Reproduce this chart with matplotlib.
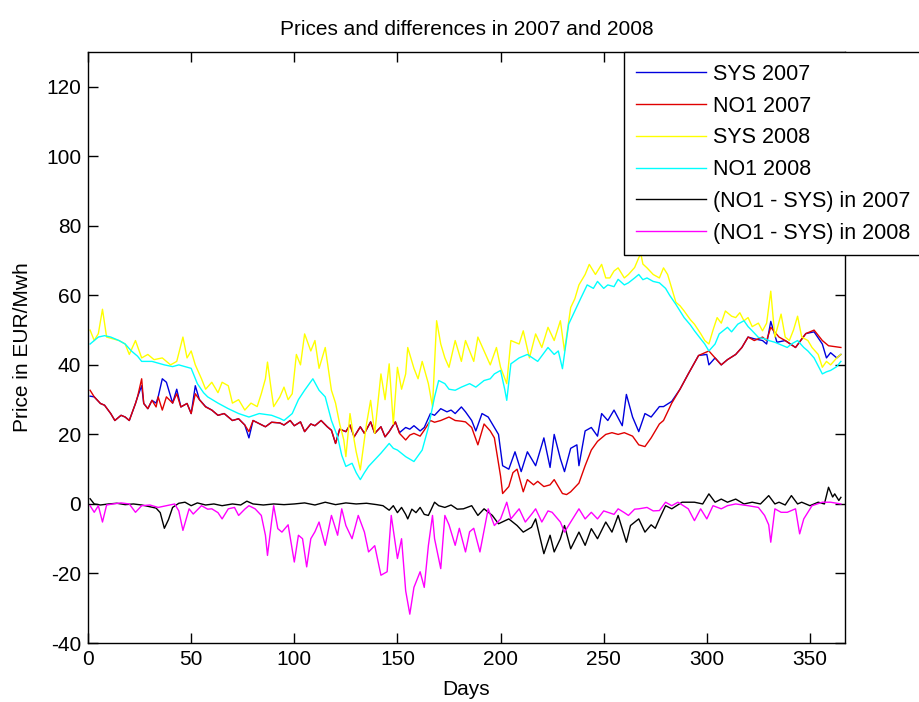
import numpy as np
import matplotlib
matplotlib.use("Agg")
import matplotlib.pyplot as plt

plt.rcParams['font.family'] = ['Liberation Sans', 'DejaVu Sans']
plt.rcParams['axes.unicode_minus'] = False

# (day, price) pairs
sys_2007 = [(1,31),(3,30.8),(6,28.9),(8,28.4),(11,26),(13,24),(16,25.5),(18,25),(20,24),(23,28.9),(24,30.8),(26,34),(27,28.9),(29,27.4),(31,29.8),(33,29),(34,30.8),(36,36),(38,35),(41,29),(43,33),(45,27.9),(48,28.9),(50,26),(52,34),(54,30),(57,28),(60,27),(63,25.5),(66,26),(70,24),(73,24.5),(76,22.7),(78,19),(80,24),(83,23.1),(86,22.2),(89,23.5),
            (93,23.3),(95,22.7),(98,24),(100,22.5),(103,23.6),(105,20.8),(108,23),(110,22.5),(113,24),(116,22.2),(118,21.2),(120,17.4),(122,21.5),(125,20.8),(127,22.7),(129,19.3),(132,22.2),(134,20.3),(137,23.6),(139,20.3),(142,22.2),(144,19.3),(146,20.8),(149,23.6),(151,20.5),(154,22),(156,21.5),(158,22.5),(161,21),(163,22),(166,26),(168,25.5),(171,27.4),(174,26.5),(176,27),(178,26),(181,27.9),(183,26.5),
            (186,24),(188,21),(191,26),(194,25),(196,23),(199,20),(201,11),(204,10),(207,15),(210,9.3),(213,15),(217,11),(221,19),(224,10.5),(226,20),(229,13),(231,9.3),(234,16),(237,17),(238,11),(241,21),(244,22),(247,19.5),(249,26),(252,24),(255,27),(259,22.5),(261,31.5),(264,25),(267,20.8),(270,26),(273,25),(277,28),
            (279,28),(283,29.5),(287,33),(291,37.4),(296,42.7),(300,43),(301,40),(304,42),(307,40),(310,41.5),(314,43),(317,45),(320,48),(323,47.5),(327,47),(329,46),(331,52.5),(334,46.5),(338,47),(343,45),(348,49),(352,49.5),(356,46),(358,42),(360,43.5),(363,42),(365,43)]

no1_2007 = [(1,32.7),(3,30.8),(6,28.9),(8,28.4),(11,26),(13,24),(16,25.5),(18,25),(20,24),(23,28.9),(24,30.8),(26,36),(27,28.9),(29,27.4),(31,29.8),(33,27.9),(34,30.8),(36,27),(38,30.8),(41,29),(43,31.7),(45,27.9),(48,28.9),(50,26),(52,31.7),(54,30),(57,27.9),(60,27),(63,25.5),(66,26),(70,24),(73,24.5),(76,22.7),(78,20.8),(80,24),(83,23.1),(86,22.2),(89,23.5),
            (93,23.3),(95,22.7),(98,24),(100,22.5),(103,23.6),(105,20.8),(108,23),(110,22.5),(113,24),(116,22.2),(118,21.2),(120,17.4),(122,21.5),(125,20.8),(127,22.7),(129,19.3),(132,22.2),(134,20.3),(137,23.6),(139,20.3),(142,22.2),(144,19.3),(146,20.8),(149,23.6),(151,20.3),(154,18.4),(156,19.8),(158,20.3),(161,19.5),(163,21.2),(166,24),(168,23.5),(171,24),(175,25),(178,24),(181,23.8),(183,23.6),
            (186,22),(189,17),(192,23),(195,21),(197,19),(200,8),(201,3),(204,5),(206,9),(208,10),(211,3.5),(213,7),(216,5.5),(218,6.5),(221,5),(224,5.5),(226,7),(230,3),(232,2.7),(234,3.5),(238,6),(241,11),(244,15.5),(247,18),(251,20),(254,20.5),(257,20),(260,20.5),(264,19.5),(267,17),(270,16.5),(273,19),(277,23),
            (279,24),(283,29),(287,33),(291,37.4),(296,42.7),(301,44),(304,42),(307,40),(310,41.5),(314,43),(317,45),(320,48),(323,47),(327,48),(329,47),(331,50.8),(335,48),(338,47),(343,45),(348,49),(352,50),(356,47),(359,45.5),(365,45)]

sys_2008 = [(1,50),(3,47),(5,49),(7,56),(9,48),(12,47.5),(15,47),(18,46),(20,43),(23,47),(26,42),(29,43),(32,41.5),(36,42),(40,40),(43,41),(46,48),(48,42),(50,44),(52,40),(55,36),(57,33),(60,35),(63,32),(65,35),(68,34),(70,29),(73,30),(76,27),(79,29),(82,28),(84,31.7),(86,36),(87,40.8),(89,32),(90,28),(93,30.8),(95,33.6),(97,30),(99,31.7),
            (101,43),(103,40),(105,48.9),(108,44),(110,47),(112,39),(115,45),(118,32.7),(120,29),(122,23),(124,18.4),(125,13.6),(127,26),(129,18.4),(130,15),(132,9.8),(135,23),(137,29.8),(139,20.3),(142,37.4),(144,30),(146,40.3),(148,23),(150,39.3),(152,33),(154,37.4),(155,45),(158,39),(160,36),(162,41),(165,34.6),(167,28),(169,52.7),(171,46),(173,42),(175,39.3),(178,47),(181,41),(183,47),(185,44),
            (187,41),(189,48),(192,44),(195,40),(198,45),(200,39.3),(203,34.6),(205,47),(209,46),(211,49.8),(214,42),(217,48.9),(220,45),(223,50.8),(226,47),(229,52.7),(231,44),(234,56.5),(236,59),(238,63),(241,66),(243,68.9),(246,66),(249,68.9),(251,65),(253,65),(255,67),(257,67.9),(260,65),(262,66),(265,68),(267,70.8),(268,72),(269,69),(271,67.9),(274,66),(277,65),
            (279,67.9),(281,66),(283,62),(285,58),(287,57),(289,55.5),(292,53),(294,51.7),(297,49),(299,47),(301,46),(303,50),(305,53.6),(307,52),(309,55.5),(312,54),(314,53.6),(316,55),(318,52.7),(320,53.6),(322,51),(325,52),(327,49.8),(329,52),(331,61.2),(333,48),(336,54.6),(338,48),(340,47),(342,50),(344,54),(346,48),(349,47),(351,45),(354,43),(356,39.3),(358,41),(360,40),(363,42),(365,43)]

no1_2008 = [(1,46),(3,47),(5,48),(8,48.4),(11,48),(15,47),(18,46),(21,44),(24,42.5),(26,41),(31,41),(34,40.5),(37,40),(41,39.5),(44,40),(47,39.5),(50,39),(53,34.6),(56,32),(58,30.8),(63,29),(68,27.4),(73,26),(78,25),(83,26),(89,25.5),(93,24.6),
            (95,24),(99,26),(102,30),(105,32.7),(109,36),(112,32.7),(115,30.8),(118,24),(121,19.3),(123,14),(125,10.8),(128,11.7),(130,9),(132,7),(134,9),(136,10.8),(139,12.7),(142,14.6),(146,17.4),(148,16),(150,15.5),(154,13.6),(158,12.2),(162,15.5),(165,22),(168,30.8),(170,35.5),(173,34.6),(175,33),(178,32.7),(181,33.6),(185,34.6),
            (188,33.6),(192,35.5),(195,36),(197,37.4),(200,38.4),(202,33),(203,29.8),(205,40.3),(209,42),(213,43),(218,41),(223,45),(226,43),(228,44),(230,38.9),(233,51.7),(236,55.5),(239,59.3),(242,63),(245,62),(247,64),(250,62),(252,63),(255,62.5),(257,64.6),(260,63),(262,63.6),(265,65),(267,66),(269,64.5),(271,65),(274,64),(277,63.6),
            (280,62),(282,60),(285,57.4),(289,53.6),(292,51.5),(294,49.8),(297,47.5),(299,46),(301,44),(304,46),(306,48.9),(310,50.8),(312,49.5),(315,51.7),(318,52.7),(320,51),(322,49.8),(325,47.9),(328,47.5),(330,47),(333,46.5),(335,46),(339,45),(341,46),(344,47),(347,45),(349,44),(352,42),(356,37.4),(358,38),(360,38.4),(363,39.5),(365,41)]

diff_2007 = [(1,1.5),(3,0),(6,-0.3),(10,0),(14,0.2),(18,-0.2),(22,0),(26,-0.3),(30,-0.8),(33,-1.2),(35,-2.5),(37,-7),(39,-4.5),(41,-1),(44,0.2),(47,0.5),(50,-0.5),(53,0.3),(57,-0.3),(61,0),(65,-0.5),(70,0),(74,-0.3),(77,0.8),(80,0),(85,-0.3),(90,0),(95,-0.2),(100,0),(105,0.3),(110,-0.3),(115,0.5),(120,-0.2),(125,0.3),(130,0),(135,0.2),(140,-0.2),(143,-0.5),(146,-1.8),(148,-0.5),(150,-2.5),(152,-1),(154,-3),(155,-4.3),(157,-1.5),(159,-2.5),(161,-1),(163,-3),(165,-3.3),(168,0.5),(170,-0.5),(173,-1),(176,-0.3),(179,-1.5),(182,-1.4),
             (186,-0.5),(189,-3.3),(192,-1.4),(196,-3.3),(199,-5.7),(204,-4.3),(208,-6.2),(211,-8.1),(215,-6.7),(217,-4.3),(221,-14.3),(224,-9),(226,-13.8),(229,-10),(231,-6.2),(234,-12.9),(238,-8.1),(241,-11.9),(244,-7.1),(247,-10),(251,-5.2),(254,-8.1),(257,-3.3),(261,-11),(263,-6.2),(267,-4.3),(270,-8.1),(273,-6),(275,-7),(277,-4.3),
             (280,-0.5),(283,-1.4),(288,0.5),(294,0.5),(298,0),(301,2.9),(304,0.5),(307,1.4),(310,0.5),(314,1.4),(318,0),(322,0.5),(326,0),(330,2.4),(333,0),(335,0.5),(338,-0.3),(341,2.4),(344,0),(346,0.5),(350,-0.5),(354,0.5),(357,0),(359,4.8),(361,2),(362,2.9),(364,1),(365,1.9)]

diff_2008 = [(1,-0.5),(3,-2.4),(5,-0.5),(7,-5.2),(9,-0.3),(12,0),(16,0.3),(20,0),(23,-2.4),(26,-0.5),(30,-0.3),(34,-1),(38,-0.5),(42,0),(44,-2),(46,-7.6),(49,-1.4),(51,-2.9),(55,-0.5),(58,-1.5),(60,-1.4),(63,-2.5),(65,-4.3),(68,-1.4),(71,-1),(73,-3.3),(76,-1.5),(78,-0.5),(81,-1.4),(84,-3.3),(86,-9),(87,-14.8),(89,-5),(90,-0.5),(92,-7.1),
             (94,-8.1),(97,-6),(100,-16.7),(102,-9),(104,-10),(106,-18.1),(108,-10),(110,-8),(112,-5.2),(115,-11.9),(118,-3.3),(121,-9),(123,-1.4),(125,-6.2),(128,-10),(131,-3.3),(134,-8.1),(136,-13.8),(139,-12),(142,-20.5),(145,-19.5),(147,-3.3),(150,-15.7),(152,-10),(154,-25),(156,-31.7),(158,-24),(161,-19.5),(163,-24),(165,-12),(167,-3.3),(168,-10),(171,-18.6),(173,-3.3),(175,-6),(178,-11.9),(180,-7),(183,-13.8),(185,-8),
             (187,-7),(190,-13.8),(194,-1.4),(197,-6.2),(200,-4.3),(203,0.5),(205,-4.3),(209,-1.4),(212,-5.2),(215,-3),(217,-1.4),(220,-5.2),(223,-2),(225,-2.4),(229,-5.2),(231,-8.1),(234,-5.2),(238,-1.4),(241,-4.3),(244,-2.4),(247,-4.3),(250,-2),(252,-2.4),(255,-3),(257,-1.4),(260,-2.5),(262,-3.3),(265,-1.5),(267,-1.4),(271,-1),(274,-2),(277,-1.9),
             (280,0.5),(283,-0.5),(286,0.5),(291,-1.4),(294,-4.8),(297,-1.4),(300,-4.3),(303,-0.5),(307,-1.4),(310,-0.5),(314,0),(320,-0.5),(325,-1),(328,-3.3),(330,-6),(331,-11),(333,-1.4),(336,-2.4),(339,-2.4),(343,-1.4),(345,-8.6),(347,-4.3),(351,-0.5),(356,0.5),(360,0.5),(365,0)]

series = [
    (sys_2007, '#0000dd', 'SYS 2007'),
    (no1_2007, '#e00000', 'NO1 2007'),
    (sys_2008, '#ffff00', 'SYS 2008'),
    (no1_2008, '#00ffff', 'NO1 2008'),
    (diff_2007, '#000000', '(NO1 - SYS) in 2007'),
    (diff_2008, '#ff00ff', '(NO1 - SYS) in 2008'),
]

fig = plt.figure(figsize=(9.19, 7.02), dpi=100)
ax = fig.add_axes([0.0958, 0.084, 0.8237, 0.842])

for datos, color, nombre in series:
    dias, valores = zip(*datos)
    ax.plot(dias, valores, color=color, linewidth=1.0, label=nombre)

ax.set_xlim(0, 367)
ax.set_ylim(-40, 130)
ax.set_xticks(np.arange(0, 351, 50))
ax.set_yticks(np.arange(-40, 121, 20))
ax.tick_params(direction='in', top=True, right=True, length=7, width=1,
               labelsize=15, pad=5)
for s in ax.spines.values():
    s.set_linewidth(1.0)

ax.set_title('Prices and differences in 2007 and 2008', fontsize=15, pad=12)
ax.set_xlabel('Days', fontsize=15, labelpad=8)
ax.set_ylabel('Price in EUR/Mwh', fontsize=15, labelpad=10)

# la leyenda sale del eje por la derecha, como en el original
leg = ax.legend(loc='upper left', bbox_to_anchor=(0.708, 1.0), borderaxespad=0,
                fontsize=15.5, frameon=True, fancybox=False, framealpha=1,
                edgecolor='black', handlelength=3.25, handletextpad=0.33,
                labelspacing=0.5, borderpad=0.55)
leg.get_frame().set_linewidth(1.0)

fig.savefig('out.png', dpi=100)
